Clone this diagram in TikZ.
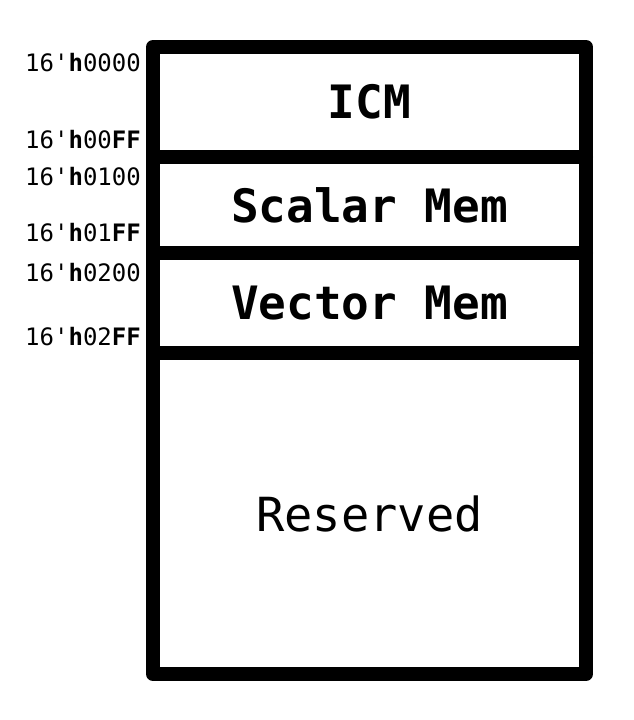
\documentclass[tikz,border=0pt]{standalone}
\usepackage{fontspec}
\setmonofont{DejaVu Sans Mono}
\usetikzlibrary{positioning}
\newcommand{\addr}[1]{16\textquotesingle\textbf{h}#1}

\begin{document}
\begin{tikzpicture}[x=1pt,y=-1pt,
    region/.style={rectangle,inner sep=0pt,outer sep=0pt,minimum width=433pt,
      font=\ttfamily\bfseries\fontsize{46}{50}\selectfont,anchor=north},
    wall/.style={line width=14pt,line join=round,line cap=round},
    addr/.style={font=\ttfamily\fontsize{24}{28}\selectfont,inner sep=0pt,anchor=east}]

  \useasboundingbox (0,0) rectangle (633,720);
  \node[region,minimum height=110pt] (icm) at (369.5,47) {ICM};
  \node[region,minimum height=96pt,below=0pt of icm] (smem) {Scalar Mem};
  \node[region,minimum height=100pt,below=0pt of smem] (vmem) {Vector Mem};
  \node[region,minimum height=321pt,below=0pt of vmem,
    font=\ttfamily\fontsize{47}{50}\selectfont] (rsv) {Reserved};

  \draw[wall] (icm.north west) rectangle (rsv.south east);
  \draw[wall] (icm.south west) -- (icm.south east);
  \draw[wall] (smem.south west) -- (smem.south east);
  \draw[wall] (vmem.south west) -- (vmem.south east);

  % address labels
  \newcommand{\gap}{-12pt}
  \node[addr] (a0) at ([xshift=\gap,yshift=-16pt]icm.north west) {\addr{0000}};
  \node[addr] (a1) at ([xshift=\gap,yshift=17pt]icm.south west) {\addr{00\textbf{FF}}};
  \node[addr] (a2) at ([xshift=\gap,yshift=-20pt]smem.north west) {\addr{0100}};
  \node[addr] (a3) at ([xshift=\gap,yshift=20pt]smem.south west) {\addr{01\textbf{FF}}};
  \node[addr] (a4) at ([xshift=\gap,yshift=-20pt]vmem.north west) {\addr{0200}};
  \node[addr] (a5) at ([xshift=\gap,yshift=16pt]vmem.south west) {\addr{02\textbf{FF}}};

\end{tikzpicture}
\end{document}
